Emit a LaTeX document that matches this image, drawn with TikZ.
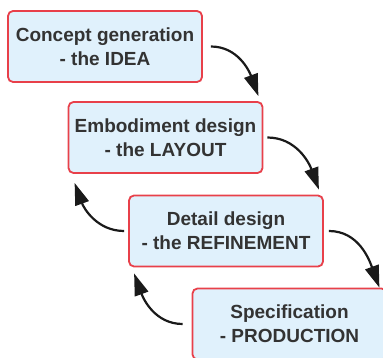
\documentclass[tikz,border=0pt]{standalone}
\usepackage{fontspec}
\setmainfont{Liberation Sans}
\usetikzlibrary{arrows.meta}
\definecolor{stageline}{HTML}{E8404A}
\definecolor{stagefill}{HTML}{E0F1FC}
\definecolor{stagetext}{HTML}{333333}
\definecolor{flowline}{HTML}{1A1A1A}

\begin{document}
\begin{tikzpicture}[
  x=1pt, y=1pt,
  stage/.style={draw=stageline, line width=1.8pt, rounded corners=5pt, fill=stagefill,
                text=stagetext, align=center, font=\bfseries\fontsize{19}{24}\selectfont,
                minimum width=194pt, minimum height=71pt, inner sep=0pt},
  flow/.style={-{Triangle[length=22pt,width=14pt]}, draw=flowline, line width=2.2pt}
]
\useasboundingbox (0,0) rectangle (383,-358);
% the four stages, stepping down to the right
\node[stage] (idea)    at (105,-46.5)  {Concept generation\\- the IDEA};
\node[stage] (layout)  at (165.5,-137.5) {Embodiment design\\- the LAYOUT};
\node[stage] (refine)  at (226,-231)   {Detail design\\- the REFINEMENT};
\node[stage] (product) at (289.5,-324) {Specification\\- PRODUCTION};
% forward steps
\draw[flow] ([xshift=8pt]idea.east) to[out=0,in=110] ([xshift=-5pt,yshift=5pt]layout.north east);
\draw[flow] ([xshift=4pt]layout.east) to[out=0,in=110] ([xshift=-5pt,yshift=5pt]refine.north east);
\draw[flow] ([xshift=5pt]refine.east) to[out=0,in=110] ([xshift=-8pt]product.north east);
% going back a step
\draw[flow] ([xshift=-4pt]refine.west) to[out=180,in=-70] ([xshift=7pt,yshift=-9pt]layout.south west);
\draw[flow] ([xshift=-9pt]product.west) to[out=180,in=-70] ([xshift=6pt,yshift=-6pt]refine.south west);
\end{tikzpicture}
\end{document}
